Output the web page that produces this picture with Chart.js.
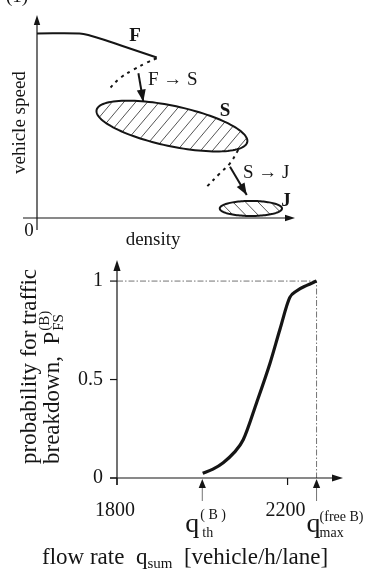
<!DOCTYPE html>
<html><head><meta charset="utf-8">
<script src="https://cdn.jsdelivr.net/npm/chart.js@4.4.1/dist/chart.umd.min.js"></script>
<style>
html,body{margin:0;padding:0;background:#fff;}
#wrap{position:relative;width:371px;height:573px;overflow:hidden;background:#fff;}
canvas{position:absolute;left:0;}
#top{top:0;} #bottom{top:250px;}
</style></head><body>
<div id="wrap"><canvas id="top" width="371" height="250"></canvas><canvas id="bottom" width="371" height="323"></canvas></div>
<script>
// ---------------- DATA ----------------
// Top panel: qualitative speed-density diagram (arbitrary 0-100 units)
const freeFlowDensity = [0, 16.5, 20.5, 28.3, 36.0, 46.4];
const freeFlowSpeed   = [90.9, 90.9, 89.9, 86.8, 83.5, 79.1];
const fsDashDensity = [46.4, 42.5, 37.3, 32.2, 27.6];
const fsDashSpeed   = [78.7, 76.5, 73.0, 68.9, 63.1];
const sjDashDensity = [78.0, 74.8, 70.9, 65.8];
const sjDashSpeed   = [33.5, 26.9, 22.0, 15.4];
const fsArrowDensity = [39.3, 41.2];
const fsArrowSpeed   = [71.3, 57.3];
const sjArrowDensity = [74.8, 81.3];
const sjArrowSpeed   = [25.3, 11.3];
// ellipses: centre, end of first semi-axis, end of second semi-axis  [density, speed]
const syncCentre = [52.3, 45.3], syncAxisA = [81.5, 37.4], syncAxisB = [53.95, 55.0];
const jamCentre  = [82.9, 4.7],  jamAxisA  = [94.96, 4.7], jamAxisB  = [82.9, 8.4];

// Bottom panel: breakdown probability vs flow rate
const flowRate = [2001, 2025, 2049, 2075, 2096, 2127, 2159, 2182, 2205, 2221, 2245, 2268];
const breakdownProbability = [0.024, 0.045, 0.078, 0.13, 0.194, 0.38, 0.584, 0.754, 0.916, 0.95, 0.978, 1.0];
const probTicks = [0, 0.5, 1];
const probTickLabels = ['0', '0.5', '1'];
const flowTicks = [1800, 2200];
const flowTickLabels = ['1800', '2200'];
const qThreshold = 2000;
const qMaxFree = 2268;

// ---------------- HELPERS ----------------
const SERIF = "'Liberation Serif', 'Times New Roman', Times, serif";
const INK = '#151515';
const GUIDE = '#747474';
const xy = (xs, ys) => xs.map((v, i) => ({x: v, y: ys[i]}));
const font = (size, bold) => (bold ? 'bold ' : '') + size + 'px ' + SERIF;

function arrowHead(ctx, fx, fy, tx, ty, len, half, color) {
  const ang = Math.atan2(ty - fy, tx - fx);
  ctx.save();
  ctx.translate(tx, ty); ctx.rotate(ang);
  ctx.fillStyle = color;
  ctx.beginPath(); ctx.moveTo(0, 0); ctx.lineTo(-len, -half); ctx.lineTo(-len, half); ctx.closePath();
  ctx.fill();
  ctx.restore();
}
// draw pieces of text in sequence from (0,0) of the current frame
function richText(ctx, pieces) {
  let x = 0;
  pieces.forEach(p => {
    ctx.font = font(p.size, p.bold);
    ctx.textAlign = 'left';
    ctx.textBaseline = 'alphabetic';
    const px = p.x !== undefined ? p.x : x;
    ctx.fillText(p.text, px, p.dy || 0);
    const w = ctx.measureText(p.text).width;
    if (!p.stack) x = px + w;
  });
  return x;
}

// ---------------- TOP CHART ----------------
function ellipsePath(chart, c, a, b) {
  const {x, y} = chart.scales;
  const cx = x.getPixelForValue(c[0]), cy = y.getPixelForValue(c[1]);
  const ux = x.getPixelForValue(a[0]) - cx, uy = y.getPixelForValue(a[1]) - cy;
  const vx = x.getPixelForValue(b[0]) - cx, vy = y.getPixelForValue(b[1]) - cy;
  const ctx = chart.ctx;
  ctx.beginPath();
  for (let i = 0; i <= 120; i++) {
    const t = i / 120 * Math.PI * 2;
    const px = cx + ux * Math.cos(t) + vx * Math.sin(t);
    const py = cy + uy * Math.cos(t) + vy * Math.sin(t);
    if (i === 0) ctx.moveTo(px, py); else ctx.lineTo(px, py);
  }
  ctx.closePath();
  return {cx, cy, r: Math.hypot(ux, uy) + Math.hypot(vx, vy)};
}

const topDecor = {
  id: 'topDecor',
  beforeDatasetsDraw(chart, args, opts) {
    const {ctx, chartArea: ar, scales: {x, y}} = chart;
    const x0 = x.getPixelForValue(0), y0 = y.getPixelForValue(0);
    ctx.save();
    ctx.strokeStyle = INK; ctx.lineWidth = 1.2;
    ctx.beginPath(); ctx.moveTo(x0, y0 + 12); ctx.lineTo(x0, ar.top + 4); ctx.stroke();
    arrowHead(ctx, x0, y0, x0, ar.top, 10, 3.2, INK);
    ctx.beginPath(); ctx.moveTo(x0 - 14, y0); ctx.lineTo(ar.right - 4, y0); ctx.stroke();
    arrowHead(ctx, x0, y0, ar.right, y0, 10, 3.2, INK);

    opts.ellipses.forEach(e => {
      ctx.save();
      const g = ellipsePath(chart, e.c, e.a, e.b);
      ctx.clip();
      ctx.strokeStyle = '#3a3a3a'; ctx.lineWidth = 0.8;
      ctx.translate(g.cx, g.cy);
      ctx.rotate(e.hatchAngle);
      ctx.beginPath();
      for (let k = -g.r; k <= g.r; k += e.hatchGap) {
        ctx.moveTo(-g.r * 2, k + e.hatchShift); ctx.lineTo(g.r * 2, k + e.hatchShift);
      }
      ctx.stroke();
      ctx.restore();
      ellipsePath(chart, e.c, e.a, e.b);
      ctx.strokeStyle = INK; ctx.lineWidth = 2; ctx.stroke();
    });
    ctx.restore();
  },
  afterDatasetsDraw(chart, args, opts) {
    const {ctx, scales: {x, y}} = chart;
    ctx.save();
    chart.data.datasets.forEach((ds, i) => {
      if (!ds.arrow) return;
      const pts = chart.getDatasetMeta(i).data;
      const p0 = pts[pts.length - 2], p1 = pts[pts.length - 1];
      arrowHead(ctx, p0.x, p0.y, p1.x, p1.y, 12, 4.5, INK);
    });
    ctx.fillStyle = INK;
    opts.labels.forEach(l => {
      ctx.font = font(l.size, l.bold);
      ctx.textAlign = l.align; ctx.textBaseline = 'middle';
      ctx.fillText(l.text, x.getPixelForValue(l.at[0]), y.getPixelForValue(l.at[1]));
    });
    const x0 = x.getPixelForValue(0), y0 = y.getPixelForValue(0);
    ctx.font = font(19); ctx.textBaseline = 'alphabetic';
    ctx.textAlign = 'center';
    ctx.fillText('0', x0 - 8, y0 + 18);
    ctx.fillText('density', x.getPixelForValue(45), y0 + 27);
    ctx.save();
    ctx.translate(x0 - 12, y.getPixelForValue(47)); ctx.rotate(-Math.PI / 2);
    ctx.fillText('vehicle speed', 0, 0);
    ctx.restore();
    ctx.textAlign = 'left';
    ctx.fillText('(1)', 6, 2);
    ctx.restore();
  }
};

new Chart(document.getElementById('top'), {
  type: 'scatter',
  data: {datasets: [
    {data: xy(freeFlowDensity, freeFlowSpeed), showLine: true, borderColor: INK, borderWidth: 2, pointRadius: 0, tension: 0.4},
    {data: xy(fsDashDensity, fsDashSpeed), showLine: true, borderColor: INK, borderWidth: 2, borderDash: [3, 4.5], pointRadius: 0, tension: 0.4},
    {data: xy(sjDashDensity, sjDashSpeed), showLine: true, borderColor: INK, borderWidth: 2, borderDash: [3, 4.5], pointRadius: 0, tension: 0.4},
    {data: xy(fsArrowDensity, fsArrowSpeed), showLine: true, borderColor: INK, borderWidth: 2, pointRadius: 0, arrow: true},
    {data: xy(sjArrowDensity, sjArrowSpeed), showLine: true, borderColor: INK, borderWidth: 2, pointRadius: 0, arrow: true}
  ]},
  options: {
    responsive: false, animation: false, devicePixelRatio: 1,
    layout: {padding: {left: 37, right: 76, top: 15, bottom: 32}},
    scales: {x: {type: 'linear', min: 0, max: 100, display: false}, y: {type: 'linear', min: 0, max: 100, display: false}},
    plugins: {
      legend: {display: false}, tooltip: {enabled: false},
      topDecor: {
        ellipses: [
          {c: syncCentre, a: syncAxisA, b: syncAxisB, hatchAngle: -0.87, hatchGap: 9, hatchShift: 0},
          {c: jamCentre, a: jamAxisA, b: jamAxisB, hatchAngle: 0.8, hatchGap: 9, hatchShift: 2}
        ],
        labels: [
          {text: 'F', at: [38.0, 89.5], bold: true, size: 19, align: 'center'},
          {text: 'F \u2192 S', at: [43.0, 68.0], size: 19, align: 'left'},
          {text: 'S', at: [72.9, 52.7], bold: true, size: 19, align: 'center'},
          {text: 'S \u2192 J', at: [79.8, 22.2], size: 19, align: 'left'},
          {text: 'J', at: [96.5, 8.4], bold: true, size: 19, align: 'center'}
        ]
      }
    }
  },
  plugins: [topDecor]
});

// ---------------- BOTTOM CHART ----------------
const bottomDecor = {
  id: 'bottomDecor',
  beforeDatasetsDraw(chart) {
    const {ctx, chartArea: ar, scales: {x, y}} = chart;
    const X0 = x.getPixelForValue(flowTicks[0]), Y0 = y.getPixelForValue(0);
    ctx.save();
    // guides (dash-dot)
    const gx = x.getPixelForValue(qMaxFree), gy = y.getPixelForValue(1);
    ctx.strokeStyle = GUIDE; ctx.lineWidth = 1; ctx.setLineDash([6, 2, 1.5, 2]);
    ctx.beginPath(); ctx.moveTo(X0, gy); ctx.lineTo(gx, gy); ctx.lineTo(gx, Y0); ctx.stroke();
    ctx.setLineDash([]);
    // axes
    ctx.strokeStyle = INK; ctx.lineWidth = 1.2;
    ctx.beginPath(); ctx.moveTo(X0, Y0 + 7); ctx.lineTo(X0, ar.top + 4); ctx.stroke();
    arrowHead(ctx, X0, Y0, X0, ar.top, 11, 3.6, INK);
    ctx.beginPath(); ctx.moveTo(X0 - 7, Y0); ctx.lineTo(ar.right - 4, Y0); ctx.stroke();
    arrowHead(ctx, X0, Y0, ar.right, Y0, 11, 3.6, INK);
    // y ticks
    ctx.fillStyle = INK;
    ctx.font = font(20); ctx.textAlign = 'right'; ctx.textBaseline = 'middle';
    probTicks.forEach((v, i) => {
      const py = y.getPixelForValue(v);
      ctx.beginPath(); ctx.moveTo(X0 - 7, py); ctx.lineTo(X0, py); ctx.stroke();
      ctx.fillText(probTickLabels[i], X0 - 14, py);
    });
    // x ticks
    ctx.textAlign = 'center'; ctx.textBaseline = 'alphabetic';
    flowTicks.forEach((v, i) => {
      const px = x.getPixelForValue(v);
      ctx.beginPath(); ctx.moveTo(px, Y0); ctx.lineTo(px, Y0 + 7); ctx.stroke();
      ctx.fillText(flowTickLabels[i], px - 2, Y0 + 38);
    });
    // marker arrows
    ctx.strokeStyle = GUIDE; ctx.lineWidth = 1;
    [qThreshold, qMaxFree].forEach(q => {
      const px = x.getPixelForValue(q);
      ctx.beginPath(); ctx.moveTo(px, Y0 + 23); ctx.lineTo(px, Y0 + 6); ctx.stroke();
      arrowHead(ctx, px, Y0 + 20, px, Y0 + 1, 9, 3.6, INK);
    });
    // q labels
    ctx.fillStyle = INK;
    let px = x.getPixelForValue(qThreshold);
    ctx.save(); ctx.translate(px - 17, Y0 + 54); richText(ctx, [{text: 'q', size: 28}]); ctx.restore();
    ctx.save(); ctx.translate(px - 2, Y0 + 41); richText(ctx, [{text: '( B )', size: 14}]); ctx.restore();
    ctx.save(); ctx.translate(px, Y0 + 59); richText(ctx, [{text: 'th', size: 14}]); ctx.restore();
    px = x.getPixelForValue(qMaxFree);
    ctx.save(); ctx.translate(px - 10, Y0 + 54); richText(ctx, [{text: 'q', size: 28}]); ctx.restore();
    ctx.save(); ctx.translate(px + 3, Y0 + 43); richText(ctx, [{text: '(free B)', size: 14}]); ctx.restore();
    ctx.save(); ctx.translate(px + 3, Y0 + 59); richText(ctx, [{text: 'max', size: 14}]); ctx.restore();
    // x title
    ctx.save(); ctx.translate(42, Y0 + 86);
    richText(ctx, [{text: 'flow rate  q', size: 23}, {text: 'sum', size: 15, dy: 4}, {text: '  [vehicle/h/lane]', size: 23}]);
    ctx.restore();
    // y title (rotated, two lines)
    const ys = Y0 - 14;
    ctx.save(); ctx.translate(36, ys); ctx.rotate(-Math.PI / 2);
    richText(ctx, [{text: 'probability for traffic', size: 23}]);
    ctx.restore();
    ctx.save(); ctx.translate(59, ys); ctx.rotate(-Math.PI / 2);
    const bw = richText(ctx, [{text: 'breakdown,  P', size: 23}]);
    richText(ctx, [{text: '(B)', size: 15, dy: -10, x: bw + 1, stack: true}, {text: 'FS', size: 15, dy: 4, x: bw + 1}]);
    ctx.restore();
    ctx.restore();
  }
};

new Chart(document.getElementById('bottom'), {
  type: 'scatter',
  data: {datasets: [
    {data: xy(flowRate, breakdownProbability), showLine: true, borderColor: INK, borderWidth: 3.2, pointRadius: 0, cubicInterpolationMode: 'monotone'}
  ]},
  options: {
    responsive: false, animation: false, devicePixelRatio: 1,
    layout: {padding: {left: 117, right: 28, top: 10, bottom: 95}},
    scales: {x: {type: 'linear', min: 1800, max: 2330, display: false}, y: {type: 'linear', min: 0, max: 1.107, display: false}},
    plugins: {legend: {display: false}, tooltip: {enabled: false}}
  },
  plugins: [bottomDecor]
});
</script>
</body></html>
